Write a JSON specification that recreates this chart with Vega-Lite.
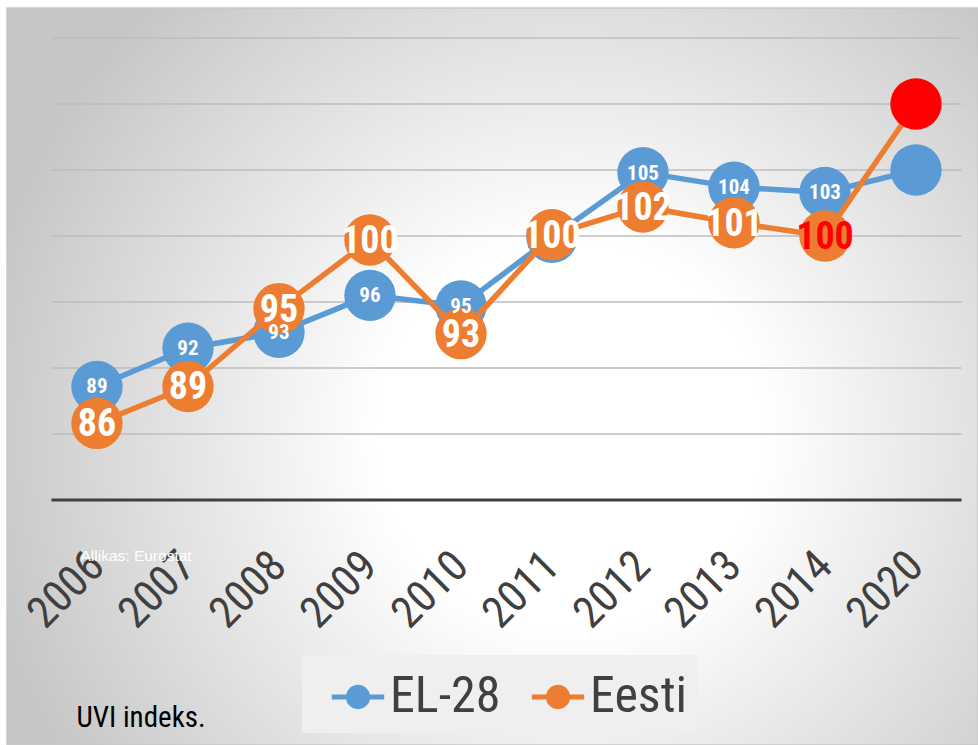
{
  "$schema": "https://vega.github.io/schema/vega-lite/v6.json",
  "width": 978,
  "height": 745,
  "autosize": {"type": "fit", "contains": "padding"},
  "padding": {"left": 7, "top": 8, "right": 0, "bottom": 0},
  "background": "white",
  "view": {
    "fill": {
      "gradient": "radial",
      "x1": 0.58, "y1": 0.56, "r1": 0,
      "x2": 0.58, "y2": 0.56, "r2": 0.62,
      "stops": [
        {"offset": 0, "color": "#ffffff"},
        {"offset": 0.32, "color": "#ffffff"},
        {"offset": 1, "color": "#c6c6c6"}
      ]
    },
    "stroke": "#c8c8c8",
    "strokeWidth": 1.5
  },
  "config": {
    "legend": {"labelFont": "Roboto Condensed, Liberation Sans Narrow, Roboto"}
  },
  "datasets": {
    "grid": [{"value": 85}, {"value": 90}, {"value": 95}, {"value": 100}, {"value": 105}, {"value": 110}, {"value": 115}],
    "base": [{"value": 80}]
  },
  "data": {
    "values": [
      {"year": "2006", "series": "EL-28", "value": 88.6, "label": "89"},
      {"year": "2007", "series": "EL-28", "value": 91.5, "label": "92"},
      {"year": "2008", "series": "EL-28", "value": 92.7, "label": "93"},
      {"year": "2009", "series": "EL-28", "value": 95.5, "label": "96"},
      {"year": "2010", "series": "EL-28", "value": 94.7, "label": "95"},
      {"year": "2011", "series": "EL-28", "value": 99.9, "label": ""},
      {"year": "2012", "series": "EL-28", "value": 104.8, "label": "105"},
      {"year": "2013", "series": "EL-28", "value": 103.7, "label": "104"},
      {"year": "2014", "series": "EL-28", "value": 103.3, "label": "103"},
      {"year": "2020", "series": "EL-28", "value": 105.0, "label": ""},
      {"year": "2006", "series": "Eesti", "value": 85.8, "label": "86"},
      {"year": "2007", "series": "Eesti", "value": 88.6, "label": "89"},
      {"year": "2008", "series": "Eesti", "value": 94.5, "label": "95"},
      {"year": "2009", "series": "Eesti", "value": 99.7, "label": "100"},
      {"year": "2010", "series": "Eesti", "value": 92.6, "label": "93"},
      {"year": "2011", "series": "Eesti", "value": 100.1, "label": "100"},
      {"year": "2012", "series": "Eesti", "value": 102.2, "label": "102"},
      {"year": "2013", "series": "Eesti", "value": 101.0, "label": "101"},
      {"year": "2014", "series": "Eesti", "value": 100.0, "label": "100"},
      {"year": "2020", "series": "Eesti", "value": 110.0, "label": ""}
    ]
  },
  "encoding": {
    "x": {
      "field": "year",
      "type": "ordinal",
      "title": "Allikas: Eurostat",
      "scale": {"type": "point", "padding": 0.835, "align": 0.592},
      "axis": {
        "title": "Allikas: Eurostat",
        "titleX": 73,
        "titleY": 60,
        "titleAlign": "left",
        "titleBaseline": "alphabetic",
        "titleFont": "Liberation Sans",
        "titleFontSize": 15.5,
        "titleFontWeight": "normal",
        "titleColor": "#ffffff",
        "offset": -245,
        "domain": false,
        "ticks": false,
        "grid": false,
        "labelAngle": -45,
        "labelAlign": "right",
        "labelBaseline": "middle",
        "labelPadding": 59,
        "labelFontSize": 44,
        "labelFont": "Roboto Condensed, Liberation Sans Narrow, Roboto",
        "labelColor": "#404040",
        "labelOverlap": false
      }
    },
    "y": {
      "field": "value",
      "type": "quantitative",
      "title": "UVI indeks.",
      "scale": {"domain": [61.44, 117.27], "nice": false, "zero": false},
      "axis": {
        "title": "UVI indeks.",
        "labels": false,
        "ticks": false,
        "domain": false,
        "grid": false,
        "titleAngle": 0,
        "titleX": 69,
        "titleY": 718,
        "titleAlign": "left",
        "titleBaseline": "alphabetic",
        "titleFont": "Roboto Condensed, Liberation Sans Narrow, Roboto",
        "titleFontSize": 29,
        "titleFontWeight": "normal",
        "titleColor": "#000000"
      }
    }
  },
  "layer": [
    {
      "data": {"name": "grid"},
      "mark": {"type": "rule", "color": "#bdbdbd", "strokeWidth": 1.5, "xOffset": -45.5, "x2Offset": 45.5},
      "encoding": {
        "x": {"datum": "2006", "type": "ordinal", "title": "Allikas: Eurostat"},
        "x2": {"datum": "2020"}
      }
    },
    {
      "data": {"name": "base"},
      "mark": {"type": "rule", "color": "#404040", "strokeWidth": 3, "xOffset": -45.5, "x2Offset": 45.5},
      "encoding": {
        "x": {"datum": "2006", "type": "ordinal", "title": "Allikas: Eurostat"},
        "x2": {"datum": "2020"}
      }
    },
    {
      "transform": [{"filter": "datum.series === 'EL-28'"}],
      "mark": {"type": "line", "strokeWidth": 5.5},
      "encoding": {
        "color": {
          "field": "series", "type": "nominal",
          "scale": {"domain": ["EL-28", "Eesti"], "range": ["#5b9bd5", "#ed7d31"]},
          "legend": {
            "title": null,
            "orient": "none",
            "legendX": 295,
            "legendY": 647,
            "direction": "horizontal",
            "fillColor": "#efefef",
            "padding": 11,
            "symbolOffset": 14,
            "symbolType": "M-0.92,0H0.92M0.34,0A0.34,0.34,0,1,1,-0.34,0A0.34,0.34,0,1,1,0.34,0Z",
            "symbolSize": 3249,
            "symbolStrokeWidth": 5,
            "labelFontSize": 50,
            "labelColor": "#404040",
            "labelOffset": 1,
            "columnPadding": 12,
            "encode": {"symbols": {"update": {"fill": {"scale": "color", "field": "value"}, "stroke": {"scale": "color", "field": "value"}, "opacity": {"value": 1}}}}
          }
        }
      }
    },
    {
      "transform": [{"filter": "datum.series === 'EL-28'"}],
      "mark": {"type": "point", "filled": true, "size": 2640, "opacity": 1},
      "encoding": {
        "color": {"field": "series", "type": "nominal", "scale": {"domain": ["EL-28", "Eesti"], "range": ["#5b9bd5", "#ed7d31"]}}
      }
    },
    {
      "transform": [{"filter": "datum.series === 'Eesti'"}],
      "mark": {"type": "line", "strokeWidth": 5.5},
      "encoding": {
        "color": {"field": "series", "type": "nominal", "scale": {"domain": ["EL-28", "Eesti"], "range": ["#5b9bd5", "#ed7d31"]}}
      }
    },
    {
      "transform": [{"filter": "datum.series === 'Eesti'"}],
      "mark": {"type": "point", "filled": true, "size": 2640, "opacity": 1},
      "encoding": {
        "color": {
          "condition": {"test": "datum.year === '2020'", "value": "#ff0000"},
          "field": "series", "type": "nominal", "scale": {"domain": ["EL-28", "Eesti"], "range": ["#5b9bd5", "#ed7d31"]}
        }
      }
    },
    {
      "transform": [{"filter": "datum.series === 'EL-28'"}],
      "mark": {"type": "text", "fontSize": 21, "fontWeight": "bold", "font": "Roboto Condensed, Liberation Sans Narrow, Roboto", "align": "center", "baseline": "middle", "dy": 1},
      "encoding": {
        "text": {"field": "label"},
        "color": {"value": "#ffffff"}
      }
    },
    {
      "transform": [{"filter": "datum.series === 'Eesti'"}],
      "mark": {"type": "text", "fontSize": 38, "fontWeight": "bold", "font": "Roboto Condensed, Liberation Sans Narrow, Roboto", "align": "center", "baseline": "middle", "dy": 2},
      "encoding": {
        "text": {"field": "label"},
        "color": {"condition": {"test": "datum.year === '2014'", "value": "#ff0000"}, "value": "#ffffff"}
      }
    }
  ]
}
